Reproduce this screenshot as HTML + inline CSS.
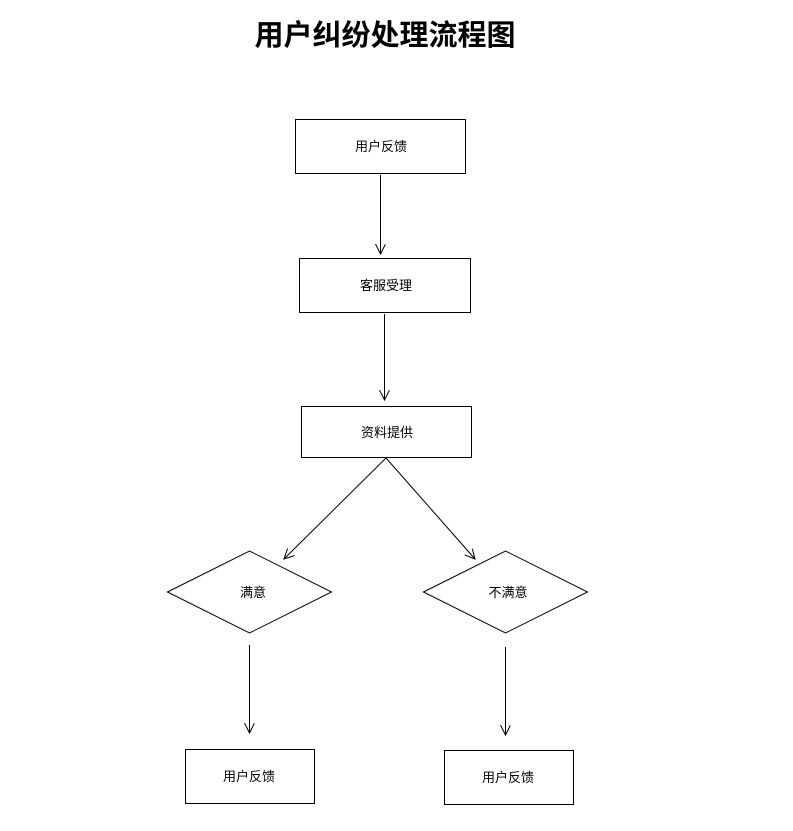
<!DOCTYPE html>
<html><head><meta charset="utf-8"><style>
body{margin:0;background:#fff;}
svg text{font-family:"Liberation Sans","Noto Sans CJK SC",sans-serif;font-size:13px;fill:#000;}
</style></head><body>
<svg width="793" height="826" viewBox="0 0 793 826" xmlns="http://www.w3.org/2000/svg">
<defs><marker id="a" markerWidth="12" markerHeight="12" refX="10" refY="5" orient="auto" markerUnits="userSpaceOnUse"><path d="M0,0 L10,5 L0,10" fill="none" stroke="#000" stroke-width="1"/></marker></defs>
<text x="385" y="45" text-anchor="middle" style="font-family:'Liberation Sans','Noto Sans CJK SC',sans-serif;font-size:29px;font-weight:bold">用户纠纷处理流程图</text>
<g fill="none" stroke="#000" stroke-width="1">
<rect x="295.5" y="119.5" width="170" height="54"/>
<rect x="299.5" y="258.5" width="171" height="54"/>
<rect x="301.5" y="406.5" width="170" height="51"/>
<polygon points="167.5,592 249.5,551 331.5,592 249.5,633"/>
<polygon points="423.5,592 505.5,551 587.5,592 505.5,633"/>
<rect x="185.5" y="749.5" width="129" height="54"/>
<rect x="444.5" y="750.5" width="129" height="54"/>
<line x1="380.5" y1="175" x2="380.5" y2="254" marker-end="url(#a)"/>
<line x1="384.5" y1="314" x2="384.5" y2="400" marker-end="url(#a)"/>
<line x1="386" y1="458" x2="284" y2="559" marker-end="url(#a)"/>
<line x1="386" y1="458" x2="475" y2="559" marker-end="url(#a)"/>
<line x1="249.5" y1="645" x2="249.5" y2="733" marker-end="url(#a)"/>
<line x1="505.5" y1="647" x2="505.5" y2="735" marker-end="url(#a)"/>
</g>
<text x="381" y="151" text-anchor="middle">用户反馈</text>
<text x="386" y="290" text-anchor="middle">客服受理</text>
<text x="387" y="437" text-anchor="middle">资料提供</text>
<text x="253" y="597" text-anchor="middle">满意</text>
<text x="508" y="597" text-anchor="middle">不满意</text>
<text x="249" y="781" text-anchor="middle">用户反馈</text>
<text x="508" y="782" text-anchor="middle">用户反馈</text>
</svg>
</body></html>
